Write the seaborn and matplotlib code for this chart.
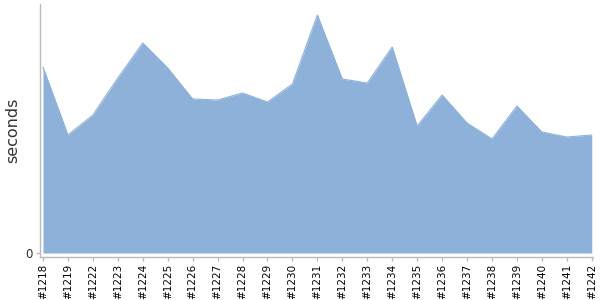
import matplotlib
matplotlib.use("Agg")
import matplotlib.pyplot as plt
import seaborn as sns
import numpy as np
import pandas as pd

builds = ["#1218", "#1219", "#1222", "#1223", "#1224", "#1225", "#1226", "#1227",
          "#1228", "#1229", "#1230", "#1231", "#1232", "#1233", "#1234", "#1235",
          "#1236", "#1237", "#1238", "#1239", "#1240", "#1241", "#1242"]
seconds = [186, 118, 138, 175, 210, 185, 154, 153, 160, 151, 169, 238, 174, 170,
           206, 127, 158, 130, 114, 147, 121, 116, 118]

sns.set_style("white")
plt.rcParams['font.family'] = ['DejaVu Sans']

df = pd.DataFrame({"build": builds, "seconds": seconds, "pos": np.arange(len(builds))})

fig = plt.figure(figsize=(6, 3), dpi=100)
ax = fig.add_axes([40/600, (300-257)/300, (593-40)/600, (257-4)/300])

color = "#8eb1d9"
sns.lineplot(data=df, x="pos", y="seconds", ax=ax, color=color, linewidth=0.8)
ax.fill_between(df["pos"], 0, df["seconds"], color=color, linewidth=0)

ax.set_xlim(-0.12, len(builds) - 1 + 0.05)
ax.set_ylim(-4, 249)
ax.set_xticks(df["pos"])
ax.set_xticklabels(builds, rotation=90, fontsize=7.5, color="black")
ax.set_yticks([0])
ax.set_yticklabels(["0"], fontsize=8.5, color="#333333")
ax.set_xlabel("")
ax.set_ylabel("seconds", fontsize=11.5, color="#333333")
ax.yaxis.set_label_coords(-0.036, 0.5)

for s in ["top", "right"]:
    ax.spines[s].set_visible(False)
for s in ["left", "bottom"]:
    ax.spines[s].set_color("#bbbbbb")
    ax.spines[s].set_linewidth(1)
ax.tick_params(axis="both", which="both", length=3, width=1, color="#bbbbbb",
               bottom=True, left=True, pad=2)

fig.savefig("out.png", dpi=100)
